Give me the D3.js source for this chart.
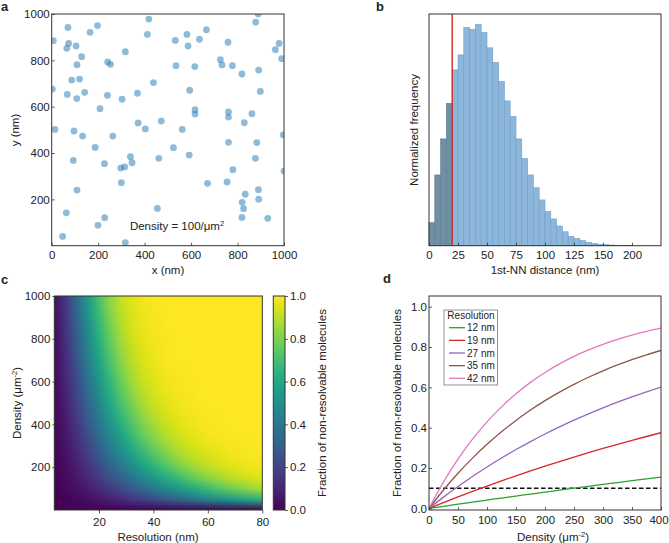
<!DOCTYPE html>
<html>
<head>
<meta charset="utf-8">
<script src="https://d3js.org/d3.v7.min.js"></script>
<style>
body { margin: 0; background: #fff; }
svg text { font-family: "Liberation Sans", Arial, Helvetica, sans-serif; fill: #222; }
</style>
</head>
<body>
<div id="chart"></div>
<script>
//Panel a: simulated molecule positions (nm)
let moleculeX = [7,70,73,65,105,129,109,86,120,165,197,67,108,142,3,14,96,133,93,187,109,63,47,199,228,
	317,418,412,438,369,303,208,240,241,253,263,372,403,472,227,297,314,339,346,300,317,455,461,524,562,535,532,582,587,616,636,666,594,617,617,592,671,
	759,726,733,778,819,878,891,898,761,761,829,862,761,883,877,780,755,833,820,826,819,890,891,930,963,979,990,997,1000,889];
let moleculeY = [885,942,873,852,862,816,781,715,719,921,950,653,635,662,676,502,495,473,368,424,240,142,40,88,121,
	837,978,912,704,658,632,591,649,793,783,473,530,504,538,354,335,340,384,358,272,13,161,377,423,502,777,886,912,862,773,891,932,671,587,568,391,269,
	878,803,780,777,741,965,758,666,577,555,531,570,446,445,377,328,275,222,187,160,122,242,201,118,846,873,807,478,322,1000];
let scatterXTicks = [0,200,400,600,800,1000];
let scatterYTicks = [200,400,600,800,1000];

//Panel b: 1st nearest neighbour distance histogram (5 nm bins)
let nnBinStart = [0,5,10,15,20,25,30,35,40,45,50,55,60,65,70,75,80,85,90,95,100,105,110,115,120,125,130,135,140,145,150,155,160,165,170];
let nnFrequency = [0.104,0.320,0.483,0.644,0.795,0.863,0.988,0.979,1.000,0.964,0.895,0.829,0.742,0.655,0.584,0.483,0.395,0.320,0.262,0.207,
	0.154,0.121,0.089,0.063,0.042,0.033,0.023,0.015,0.010,0.006,0.0045,0.003,0.002,0.0014,0.0007];
let resolutionLimit = 20;
let histTickValues = [0,25,50,75,100,125,150,175];
let histTickLabels = ["0","25","50","75","100","125","150","200"];

//Panel c: fraction of non-resolvable molecules, one column per resolution, rows = density 0..1000
let heatResolution = [4,8,12,16,20,24,28,32,36,40,44,48,52,56,60,64,68,72,76,80];
let heatDensity = [0,50,100,150,200,250,300,350,400,450,500,550,600,650,700,750,800,850,900,950,1000];
let heatFraction = [
	[0,.003,.005,.008,.010,.012,.015,.017,.020,.022,.025,.027,.030,.032,.035,.037,.039,.042,.044,.047,.049],
	[0,.010,.020,.030,.039,.049,.059,.068,.077,.087,.096,.105,.114,.123,.131,.140,.149,.157,.166,.174,.182],
	[0,.022,.044,.066,.087,.107,.127,.146,.166,.184,.202,.220,.238,.255,.271,.288,.304,.319,.334,.349,.364],
	[0,.039,.077,.114,.149,.182,.214,.245,.275,.304,.331,.357,.383,.407,.430,.453,.474,.495,.515,.534,.553],
	[0,.061,.118,.172,.222,.270,.314,.356,.395,.432,.467,.499,.530,.558,.585,.610,.634,.656,.677,.697,.715],
	[0,.087,.166,.238,.304,.364,.419,.469,.515,.557,.595,.630,.662,.692,.718,.743,.765,.785,.804,.821,.836],
	[0,.116,.218,.309,.389,.460,.522,.578,.627,.670,.708,.742,.772,.798,.822,.842,.861,.877,.891,.904,.915],
	[0,.149,.275,.383,.474,.553,.619,.676,.724,.765,.800,.830,.855,.876,.895,.910,.924,.935,.945,.953,.960],
	[0,.184,.334,.457,.557,.639,.705,.759,.804,.840,.869,.893,.913,.929,.942,.953,.962,.969,.974,.979,.983],
	[0,.222,.395,.530,.634,.715,.779,.828,.866,.896,.919,.937,.951,.962,.970,.977,.982,.986,.989,.992,.993],
	[0,.262,.456,.598,.704,.781,.839,.881,.912,.935,.952,.965,.974,.981,.986,.990,.992,.994,.996,.997,.998],
	[0,.304,.515,.662,.765,.836,.886,.921,.945,.961,.973,.981,.987,.991,.994,.996,.997,.998,.999,.999,.999],
	[0,.346,.572,.720,.817,.880,.922,.949,.967,.978,.986,.991,.994,.996,.997,.998,.999,.999,1,1,1],
	[0,.389,.627,.772,.861,.915,.948,.968,.981,.988,.993,.996,.997,.998,.999,.999,1,1,1,1,1],
	[0,.432,.677,.817,.896,.941,.966,.981,.989,.994,.996,.998,.999,.999,1,1,1,1,1,1,1],
	[0,.474,.724,.855,.924,.960,.979,.989,.994,.997,.998,.999,1,1,1,1,1,1,1,1,1],
	[0,.516,.766,.887,.945,.974,.987,.994,.997,.998,.999,1,1,1,1,1,1,1,1,1,1],
	[0,.557,.804,.913,.962,.983,.992,.997,.998,.999,1,1,1,1,1,1,1,1,1,1,1],
	[0,.596,.837,.934,.973,.989,.996,.998,.999,1,1,1,1,1,1,1,1,1,1,1,1],
	[0,.634,.866,.951,.982,.993,.998,.999,1,1,1,1,1,1,1,1,1,1,1,1,1]
];
let heatXTicks = [20,40,60,80];
let heatYTicks = [200,400,600,800,1000];
let cbarTicks = [0,0.2,0.4,0.6,0.8,1.0];

//Panel d: fraction vs density for several resolutions
let curveDensity = [0,25,50,75,100,125,150,175,200,225,250,275,300,325,350,375,400];
let curveLabels = ["12 nm","19 nm","27 nm","35 nm","42 nm"];
let curveColors = ["#2ca02c","#d62728","#9467bd","#8c564b","#e377c2"];
let curve12 = [0,.0105,.0209,.0312,.0413,.0514,.0613,.0712,.0809,.0906,.1001,.1096,.1189,.1282,.1373,.1464,.1553];
let curve19 = [0,.0289,.0571,.0844,.1109,.1366,.1616,.1859,.2095,.2323,.2545,.2761,.2971,.3174,.3372,.3564,.3750];
let curve27 = [0,.0559,.1086,.1584,.2055,.2498,.2918,.3313,.3687,.4040,.4373,.4688,.4984,.5265,.5529,.5779,.6015];
let curve35 = [0,.0911,.1739,.2491,.3175,.3797,.4362,.4875,.5342,.5766,.6152,.6502,.6821,.7110,.7374,.7613,.7830];
let curve42 = [0,.1306,.2442,.3430,.4288,.5034,.5683,.6247,.6737,.7163,.7534,.7856,.8136,.8380,.8591,.8775,.8935];
let curveSeries = [curve12, curve19, curve27, curve35, curve42];
let thresholdLevel = 0.1;
let lineXTicks = [0,50,100,150,200,250,300,350,400];
let lineYTicks = [0,0.2,0.4,0.6,0.8,1.0];

//SVG container
let width = 669;
let height = 543;
let svg = d3.select("#chart").append("svg")
	.attr("width", width)
	.attr("height", height);
svg.append("rect").attr("width", width).attr("height", height).attr("fill", "#fff");

let defs = svg.append("defs");
let tickFont = "11.5px";

//Utility to style an axis group
let styleAxis = function(g){
	g.select(".domain").remove();
	g.selectAll(".tick line").attr("stroke", "#333").attr("stroke-width", 0.8);
	g.selectAll(".tick text").style("font-size", tickFont).attr("fill", "#222");
}

//Utility for a frame around a plot area
let frame = function(x0, y0, x1, y1){
	svg.append("rect")
		.attr("x", x0).attr("y", y0)
		.attr("width", x1 - x0).attr("height", y1 - y0)
		.attr("fill", "none")
		.attr("stroke", "#333")
		.attr("stroke-width", 1);
}

let clipRect = function(id, x0, y0, x1, y1){
	defs.append("clipPath").attr("id", id)
		.append("rect").attr("x", x0).attr("y", y0).attr("width", x1 - x0).attr("height", y1 - y0);
}

let panelLabel = function(txt, x, y){
	svg.append("text").attr("x", x).attr("y", y)
		.style("font-size", "13px").style("font-weight", "bold")
		.text(txt);
}

let axisLabel = function(txt, x, y, rotate){
	let t = svg.append("text")
		.attr("text-anchor", "middle")
		.style("font-size", tickFont)
		.text(txt);
	if(rotate){
		t.attr("transform", "translate(" + x + "," + y + ") rotate(-90)");
	}else{
		t.attr("x", x).attr("y", y);
	}
	return t;
}

//---------- Panel a ----------
let ax = {left: 51.7, right: 284, top: 14, bottom: 245.7};
let xA = d3.scaleLinear().domain([0, 1000]).range([ax.left, ax.right]);
let yA = d3.scaleLinear().domain([0, 1000]).range([ax.bottom, ax.top]);
clipRect("clipA", ax.left, ax.top, ax.right, ax.bottom);

svg.append("g").attr("clip-path", "url(#clipA)")
	.selectAll("circle")
		.data(moleculeX)
	.enter()
		.append("circle")
			.attr("cx", function(d){ return xA(d); })
			.attr("cy", function(d, i){ return yA(moleculeY[i]); })
			.attr("r", 3.4)
			.attr("fill", "#1f77b4")
			.attr("fill-opacity", 0.5);

svg.append("g").attr("transform", "translate(0," + ax.bottom + ")")
	.call(d3.axisBottom(xA).tickValues(scatterXTicks).tickSize(-3).tickPadding(5).tickFormat(d3.format("d")))
	.call(styleAxis);
svg.append("g").attr("transform", "translate(" + ax.left + ",0)")
	.call(d3.axisLeft(yA).tickValues(scatterYTicks).tickSize(-3).tickPadding(2).tickFormat(d3.format("d")))
	.call(styleAxis);
frame(ax.left, ax.top, ax.right, ax.bottom);

svg.append("text").attr("x", 177).attr("y", 230)
	.attr("text-anchor", "middle").style("font-size", tickFont)
	.html("Density = 100/μm<tspan dy='-4' style='font-size:7.5px'>2</tspan>");
axisLabel("x (nm)", 168, 274, false);
axisLabel("y (nm)", 19, 130, true);
panelLabel("a", 1, 11);

//---------- Panel b ----------
let bx = {left: 429, right: 661, top: 14, bottom: 245.7};
let xB = d3.scaleLinear().domain([0, 200]).range([bx.left, bx.right]);
let yB = d3.scaleLinear().domain([0, 1.048]).range([bx.bottom, bx.top]);

svg.append("g")
	.selectAll("rect")
		.data(nnFrequency)
	.enter()
		.append("rect")
			.attr("x", function(d, i){ return xB(nnBinStart[i]); })
			.attr("width", function(d, i){ return xB(nnBinStart[i] + 5) - xB(nnBinStart[i]); })
			.attr("y", function(d){ return yB(d); })
			.attr("height", function(d){ return yB(0) - yB(d); })
			.attr("fill", function(d, i){ return nnBinStart[i] < resolutionLimit ? "#718fa4" : "#8cb7da"; })
			.attr("stroke", function(d, i){ return nnBinStart[i] < resolutionLimit ? "#5f7d92" : "#6e9fc6"; })
			.attr("stroke-width", 0.6);

svg.append("line")
	.attr("x1", xB(resolutionLimit)).attr("x2", xB(resolutionLimit))
	.attr("y1", bx.top).attr("y2", bx.bottom)
	.attr("stroke", "#d62728").attr("stroke-width", 1.4);

svg.append("g").attr("transform", "translate(0," + bx.bottom + ")")
	.call(d3.axisBottom(xB).tickValues(histTickValues).tickSize(-3).tickPadding(5)
		.tickFormat(function(d, i){ return histTickLabels[i]; }))
	.call(styleAxis);
frame(bx.left, bx.top, bx.right, bx.bottom);

axisLabel("1st-NN distance (nm)", 545, 274, false);
axisLabel("Normalized frequency", 418, 130, true);
panelLabel("b", 376, 11);

//---------- Panel c ----------
let cx = {left: 54.3, right: 262.3, top: 296, bottom: 510};
let xC = d3.scaleLinear().domain([3.6, 80]).range([cx.left, cx.right]);
let yC = d3.scaleLinear().domain([0, 1000]).range([cx.bottom, cx.top]);
let colorC = d3.scaleSequential(d3.interpolateViridis).domain([0, 1]);
clipRect("clipC", cx.left, cx.top, cx.right, cx.bottom);

//Heatmap cells painted into a small canvas, then stretched (smoothly) over the axes
let nCols = heatResolution.length;
let nRows = heatDensity.length;
let canvas = document.createElement("canvas");
canvas.width = nCols;
canvas.height = nRows;
let ctx = canvas.getContext("2d");
heatFraction.forEach(function(col, i){
	col.forEach(function(v, j){
		ctx.fillStyle = colorC(v);
		ctx.fillRect(i, nRows - 1 - j, 1, 1);
	});
});
let stepR = heatResolution[1] - heatResolution[0];
let stepD = heatDensity[1] - heatDensity[0];
svg.append("g").attr("clip-path", "url(#clipC)")
	.append("image")
		.attr("href", canvas.toDataURL())
		.attr("x", xC(heatResolution[0] - stepR / 2))
		.attr("width", xC(heatResolution[nCols - 1] + stepR / 2) - xC(heatResolution[0] - stepR / 2))
		.attr("y", yC(heatDensity[nRows - 1] + stepD / 2))
		.attr("height", yC(heatDensity[0] - stepD / 2) - yC(heatDensity[nRows - 1] + stepD / 2))
		.attr("preserveAspectRatio", "none");

svg.append("g").attr("transform", "translate(0," + cx.bottom + ")")
	.call(d3.axisBottom(xC).tickValues(heatXTicks).tickSize(3.5).tickPadding(4).tickFormat(d3.format("d")))
	.call(styleAxis);
svg.append("g").attr("transform", "translate(" + cx.left + ",0)")
	.call(d3.axisLeft(yC).tickValues(heatYTicks).tickSize(2).tickPadding(2).tickFormat(d3.format("d")))
	.call(styleAxis);
frame(cx.left, cx.top, cx.right, cx.bottom);

//Colorbar
let cb = {left: 273.3, right: 285, top: 296, bottom: 510};
let yCb = d3.scaleLinear().domain([0, 1]).range([cb.bottom, cb.top]);
let grad = defs.append("linearGradient").attr("id", "viridisGrad")
	.attr("x1", 0).attr("y1", 1).attr("x2", 0).attr("y2", 0);
grad.selectAll("stop")
		.data(d3.range(0, 1.0001, 0.05))
	.enter()
		.append("stop")
			.attr("offset", function(d){ return d; })
			.attr("stop-color", function(d){ return colorC(d); });
svg.append("rect")
	.attr("x", cb.left).attr("y", cb.top)
	.attr("width", cb.right - cb.left).attr("height", cb.bottom - cb.top)
	.attr("fill", "url(#viridisGrad)");
svg.append("g").attr("transform", "translate(" + cb.right + ",0)")
	.call(d3.axisRight(yCb).tickValues(cbarTicks).tickSize(3).tickPadding(2).tickFormat(d3.format(".1f")))
	.call(styleAxis);
frame(cb.left, cb.top, cb.right, cb.bottom);

axisLabel("Fraction of non-resolvable molecules", 325.5, 403, true);
axisLabel("Resolution (nm)", 158, 540.5, false);
axisLabel("", 20.5, 403, true)
	.html("Density (μm<tspan dy='-4' style='font-size:7.5px'>-2</tspan><tspan dy='4'>)</tspan>");
panelLabel("c", 1, 284);

//---------- Panel d ----------
let dx = {left: 429, right: 661, top: 296, bottom: 510};
let xD = d3.scaleLinear().domain([0, 400]).range([dx.left, dx.right]);
let yD = d3.scaleLinear().domain([-0.008, 1.053]).range([dx.bottom, dx.top]);
clipRect("clipD", dx.left, dx.top, dx.right, dx.bottom);

let line = d3.line()
	.x(function(d, i){ return xD(curveDensity[i]); })
	.y(function(d){ return yD(d); })
	.curve(d3.curveMonotoneX);

let linesG = svg.append("g").attr("clip-path", "url(#clipD)");
linesG.append("line")
	.attr("x1", xD(0)).attr("x2", xD(400))
	.attr("y1", yD(thresholdLevel)).attr("y2", yD(thresholdLevel))
	.attr("stroke", "#111").attr("stroke-width", 1.4)
	.attr("stroke-dasharray", "4.5,2.5");
linesG.selectAll("path.curve")
		.data(curveSeries)
	.enter()
		.append("path")
			.attr("class", "curve")
			.attr("d", line)
			.attr("fill", "none")
			.attr("stroke", function(d, i){ return curveColors[i]; })
			.attr("stroke-width", 1.3);

let xAxisD = svg.append("g").attr("transform", "translate(0," + dx.bottom + ")")
	.call(d3.axisBottom(xD).tickValues(lineXTicks).tickSize(-3).tickPadding(6).tickFormat(d3.format("d")))
	.call(styleAxis);
//keep the last label inside the page
xAxisD.selectAll(".tick text").filter(function(d){ return d === 400; }).attr("dx", "-2.5");
svg.append("g").attr("transform", "translate(" + dx.left + ",0)")
	.call(d3.axisLeft(yD).tickValues(lineYTicks).tickSize(-3).tickPadding(2).tickFormat(d3.format(".1f")))
	.call(styleAxis);
frame(dx.left, dx.top, dx.right, dx.bottom);

//Legend
let legend = svg.append("g");
legend.append("rect")
	.attr("x", 444).attr("y", 310)
	.attr("width", 53.5).attr("height", 75)
	.attr("fill", "#fff").attr("stroke", "#777").attr("stroke-width", 0.8);
legend.append("text").attr("x", 471).attr("y", 319)
	.attr("text-anchor", "middle").style("font-size", "10px").text("Resolution");
let entries = legend.selectAll("g.entry")
		.data(curveLabels)
	.enter()
		.append("g")
			.attr("class", "entry")
			.attr("transform", function(d, i){ return "translate(0," + (327.7 + i * 12.65) + ")"; });
entries.append("line")
	.attr("x1", 449).attr("x2", 465).attr("y1", 0).attr("y2", 0)
	.attr("stroke", function(d, i){ return curveColors[i]; })
	.attr("stroke-width", 1.3);
entries.append("text")
	.attr("x", 467).attr("y", 3.5)
	.style("font-size", "10px")
	.text(function(d){ return d; });

axisLabel("Fraction of non-resolvable molecules", 400.5, 403, true);
axisLabel("", 553, 540.5, false)
	.html("Density (μm<tspan dy='-4' style='font-size:7.5px'>-2</tspan><tspan dy='4'>)</tspan>");
panelLabel("d", 383, 283);
</script>
</body>
</html>
